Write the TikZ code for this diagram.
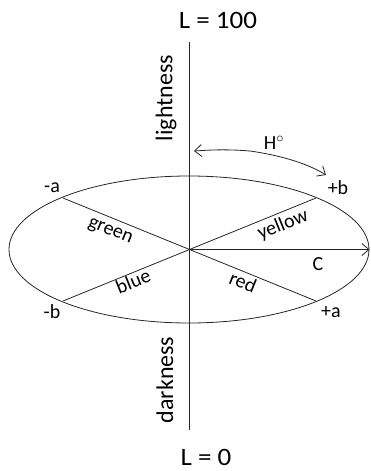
\documentclass[tikz,border=0pt]{standalone}
\usepackage{fontspec}
\setmainfont{Carlito}
\usetikzlibrary{arrows.meta}
\begin{document}
\begin{tikzpicture}[x=1pt,y=-1pt,
  ln/.style={line width=0.8pt,draw=black!85},
  lbl/.style={font=\fontsize{20}{22}\selectfont,inner sep=0pt},
  big/.style={font=\fontsize{24}{26}\selectfont,inner sep=0pt},
  lev/.style={font=\fontsize{25}{27}\selectfont,inner sep=0pt,xscale=1.08},
  tip/.style={-{Straight Barb[length=7pt,width=12pt,line width=0.8pt]}}]
\useasboundingbox (0,0) rectangle (371,471);
\coordinate (O) at (189,249.5);
\coordinate (top) at (189,42);
\coordinate (bot) at (189,430);
\coordinate (ma) at (63,198);
\coordinate (pb) at (316,198);
\coordinate (mb) at (63,301);
\coordinate (pa) at (316,301);
\coordinate (Ce) at (369.5,249.5);
\coordinate (h1) at (194,151);
\coordinate (h2) at (326,175);
\coordinate (hm) at (250,151);
\draw[ln] (top) -- (bot);
\draw[ln] (O) ellipse [x radius=180, y radius=73.5];
\draw[ln] (ma) -- (pa);
\draw[ln] (mb) -- (pb);
\draw[ln,tip] (O) -- (Ce);
\draw[ln,tip] (hm) .. controls (285,156) and (310,165) .. (h2);
\draw[ln,tip] (hm) .. controls (225,149) and (210,150) .. (h1);
\node[lev] (L100) at (218,20) {L = 100};
\node[lev] (L0) at (206,457) {L = 0};
\node[big,rotate=90] (light) at (166,98) {lightness};
\node[big,rotate=90] (dark) at (165,380) {darkness};
\node[lbl] (H) at (274,143) {H$^{\circ}$};
\node[lbl] (la) at (52,188) {-a};
\node[lbl] (lb) at (338,188) {+b};
\node[lbl] (lmb) at (52,312) {-b};
\node[lbl] (lpa) at (331,312) {+a};
\node[lbl] (lC) at (318,264) {C};
\node[lbl,rotate=-22] (green) at (110,232) {green};
\node[lbl,rotate=22] (yellow) at (283,225) {yellow};
\node[lbl,rotate=22] (blue) at (133,281) {blue};
\node[lbl,rotate=-22] (red) at (243,282) {red};
\end{tikzpicture}
\end{document}
